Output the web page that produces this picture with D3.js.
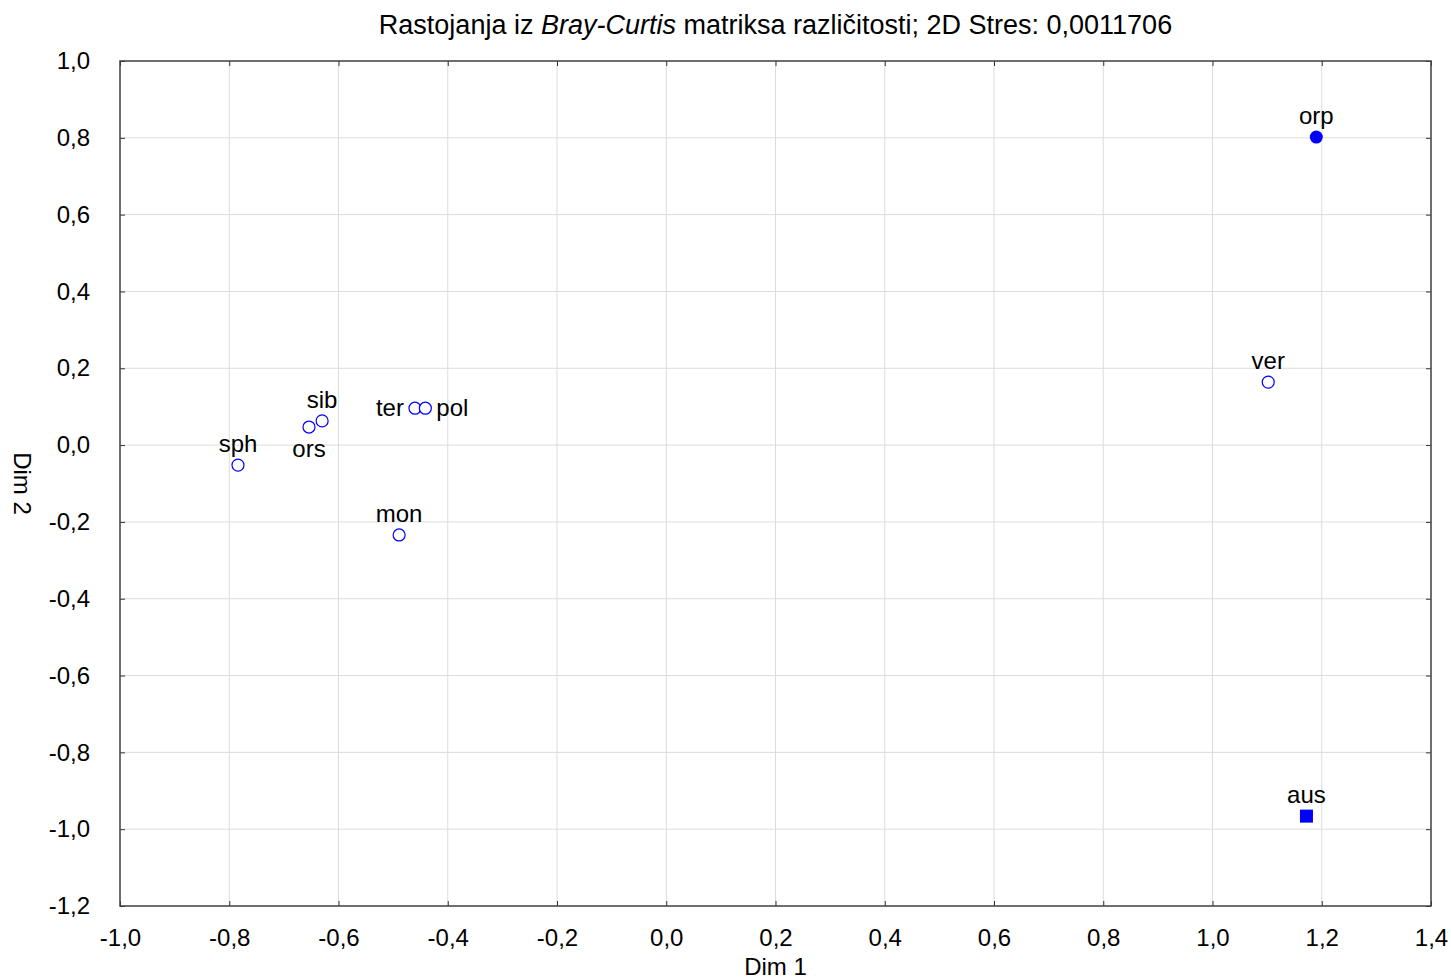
<!DOCTYPE html>
<meta charset="utf-8">
<title>MDS Bray-Curtis</title>
<style>
body { margin: 0; background: #fff; }
text { font-family: "Liberation Sans", Arial, sans-serif; fill: #000; }
.grid line { stroke: #dcdcdc; stroke-width: 1px; }
</style>
<script src="https://d3js.org/d3.v7.min.js"></script>
<div id="chart"></div>
<script>
// point data
var names = ["orp", "ver", "aus", "sph", "ors", "sib", "ter", "pol", "mon"];
var dim1 = [1.190, 1.102, 1.172, -0.784, -0.654, -0.630, -0.460, -0.441, -0.489];
var dim2 = [0.802, 0.164, -0.966, -0.052, 0.047, 0.063, 0.096, 0.096, -0.234];
var shapes = ["dot", "open", "square", "open", "open", "open", "open", "open", "open"];
var labelPos = ["top", "top", "top", "top", "bottom", "top", "left", "right", "top"];
var xTicks = [-1.0, -0.8, -0.6, -0.4, -0.2, 0.0, 0.2, 0.4, 0.6, 0.8, 1.0, 1.2, 1.4];
var yTicks = [1.0, 0.8, 0.6, 0.4, 0.2, 0.0, -0.2, -0.4, -0.6, -0.8, -1.0, -1.2];

var W = 1451, H = 980;
var margin = {top: 61, right: 20, bottom: 74, left: 120},
    width = 1431 - margin.left,
    height = 906 - margin.top;

var svg = d3.select("#chart").append("svg")
    .attr("width", W).attr("height", H);
var g = svg.append("g")
    .attr("transform", "translate(" + margin.left + "," + margin.top + ")");

var x = d3.scaleLinear().domain([-1.0, 1.4]).range([0, width]);
var y = d3.scaleLinear().domain([-1.2, 1.0]).range([height, 0]);
var fmt = function(d) { return d3.format(".1f")(d).replace(".", ",").replace("−", "-"); };

// grid
g.append("g").attr("class", "grid")
  .selectAll("line").data(xTicks).enter().append("line")
    .attr("x1", d => x(d)).attr("x2", d => x(d))
    .attr("y1", 0).attr("y2", height);
g.append("g").attr("class", "grid")
  .selectAll("line").data(yTicks).enter().append("line")
    .attr("y1", d => y(d)).attr("y2", d => y(d))
    .attr("x1", 0).attr("x2", width);

// axes with inward ticks
function styleAxis(sel) {
  sel.attr("font-size", 24).attr("font-family", null);
  sel.select(".domain").remove();
  sel.selectAll(".tick line").attr("stroke", "#333");
}
g.append("g").attr("transform", "translate(0," + height + ")")
  .call(d3.axisBottom(x).tickValues(xTicks).tickFormat(fmt).tickSizeInner(-5).tickPadding(23))
  .call(styleAxis);
g.append("g")
  .call(d3.axisLeft(y).tickValues(yTicks).tickFormat(fmt).tickSizeInner(-5).tickPadding(30))
  .call(styleAxis);
g.append("g")
  .call(d3.axisTop(x).tickValues(xTicks).tickFormat("").tickSizeInner(-5))
  .call(styleAxis);
g.append("g").attr("transform", "translate(" + width + ",0)")
  .call(d3.axisRight(y).tickValues(yTicks).tickFormat("").tickSizeInner(-5))
  .call(styleAxis);

// frame
g.append("rect").attr("width", width).attr("height", height)
  .attr("fill", "none").attr("stroke", "#444").attr("stroke-width", 1.5);

// points
var data = names.map((n, i) => ({name: n, x: dim1[i], y: dim2[i], shape: shapes[i], pos: labelPos[i]}));
var blue = "#0000ff";
data.forEach(function(d) {
  var px = x(d.x), py = y(d.y);
  if (d.shape === "square") {
    g.append("rect").attr("x", px - 6.5).attr("y", py - 6.5)
      .attr("width", 13).attr("height", 13).attr("fill", blue);
  } else if (d.shape === "dot") {
    g.append("circle").attr("cx", px).attr("cy", py).attr("r", 6.5).attr("fill", blue);
  } else {
    g.append("circle").attr("cx", px).attr("cy", py).attr("r", 6)
      .attr("fill", "#fff").attr("stroke", blue).attr("stroke-width", 1.2);
  }
  var t = g.append("text").attr("font-size", 24).text(d.name);
  if (d.pos === "top") t.attr("x", px).attr("y", py - 13).attr("text-anchor", "middle");
  else if (d.pos === "bottom") t.attr("x", px).attr("y", py + 30).attr("text-anchor", "middle");
  else if (d.pos === "left") t.attr("x", px - 11).attr("y", py + 8).attr("text-anchor", "end");
  else t.attr("x", px + 11).attr("y", py + 8).attr("text-anchor", "start");
});

// title
var title = svg.append("text").attr("x", margin.left + width / 2).attr("y", 34)
  .attr("text-anchor", "middle").attr("font-size", 27);
title.append("tspan").text("Rastojanja iz ");
title.append("tspan").attr("font-style", "italic").text("Bray-Curtis");
title.append("tspan").text(" matriksa različitosti; 2D Stres: 0,0011706");

// axis titles
svg.append("text").attr("x", margin.left + width / 2).attr("y", 975)
  .attr("text-anchor", "middle").attr("font-size", 24).text("Dim 1");
svg.append("text")
  .attr("transform", "translate(14," + (margin.top + height / 2) + ") rotate(90)")
  .attr("text-anchor", "middle").attr("font-size", 24).text("Dim 2");
</script>
